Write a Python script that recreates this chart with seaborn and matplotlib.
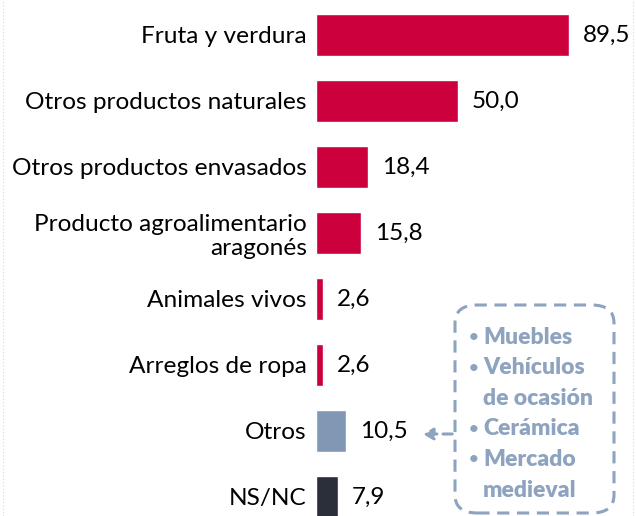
import matplotlib
matplotlib.use('Agg')
import matplotlib.pyplot as plt
import seaborn as sns
import pandas as pd
from matplotlib.patches import FancyBboxPatch, FancyArrowPatch
from matplotlib.lines import Line2D

CATEGORIES = ['Fruta y verdura', 'Otros productos naturales', 'Otros productos envasados',
              'Producto agroalimentario\naragonés', 'Animales vivos', 'Arreglos de ropa',
              'Otros', 'NS/NC']
VALUES = [89.5, 50.0, 18.4, 15.8, 2.6, 2.6, 10.5, 7.9]
OTHERS_DETAIL = ['Muebles', 'Vehículos\nde ocasión', 'Cerámica', 'Mercado\nmedieval']

RED = '#CC003D'
GREY_BLUE = '#8098B4'
DARK = '#2B2F3A'
BAR_COLORS = [RED] * 6 + [GREY_BLUE, DARK]
NOTE_COLOR = '#8DA3BF'

sns.set_theme(style='white')
plt.rcParams['font.family'] = ['Lato', 'DejaVu Sans']

df = pd.DataFrame({'cat': CATEGORIES, 'val': VALUES})

fig = plt.figure(figsize=(6.36, 5.16), dpi=100)
ax = fig.add_axes([316 / 636, 0, 320 / 636, 1])

sns.barplot(data=df, x='val', y='cat', hue='cat', palette=dict(zip(CATEGORIES, BAR_COLORS)),
            orient='h', width=0.65, saturation=1, legend=False, ax=ax)

ax.set_xlim(0, 320 / 2.83)
ax.set_ylim((516 - 35) / 66, -35 / 66)
ax.set_xlabel('')
ax.set_ylabel('')
ax.set_xticks([])
ax.tick_params(axis='y', length=0, pad=6.5, labelsize=17.6, labelcolor='black')
for lbl in ax.get_yticklabels():
  lbl.set_horizontalalignment('right')
  lbl.set_multialignment('right')
for s in ax.spines.values():
  s.set_visible(False)

for cont in ax.containers:
  ax.bar_label(cont, labels=[f'{v:.1f}'.replace('.', ',') for v in cont.datavalues],
               padding=10, fontsize=17.5, color='black')

# callout box listing what "Otros" contains
box = FancyBboxPatch((455 / 636, 3 / 516), 159 / 636, 208 / 516, transform=fig.transFigure,
                     boxstyle='round,pad=0,rounding_size=0.035', fill=False,
                     edgecolor=NOTE_COLOR, linewidth=2.2, linestyle=(0, (4, 2.5)))
fig.add_artist(box)

y = 1 - 337 / 516
for item in OTHERS_DETAIL:
  lines = item.split('\n')
  fig.text(469 / 636, y, '•', color=NOTE_COLOR, fontsize=12, fontweight='bold', va='center')
  for ln in lines:
    fig.text(483 / 636, y, ln, color=NOTE_COLOR, fontsize=16.5, fontweight='heavy', va='center')
    y -= 30.6 / 516

fig.add_artist(FancyArrowPatch(
  (455 / 636, 1 - 434 / 516), (420 / 636, 1 - 434 / 516), transform=fig.transFigure,
  arrowstyle='-|>,head_length=6,head_width=3.5', color=NOTE_COLOR, linewidth=2.2,
  linestyle=(0, (3, 2)), mutation_scale=1))

# faint slide border
for xp in (3 / 636, 633 / 636):
  fig.add_artist(Line2D([xp, xp], [0, 1], transform=fig.transFigure, color='#D8D8D8',
                        linewidth=0.8, linestyle=(0, (1, 2))))

fig.savefig('out.png', dpi=100)
